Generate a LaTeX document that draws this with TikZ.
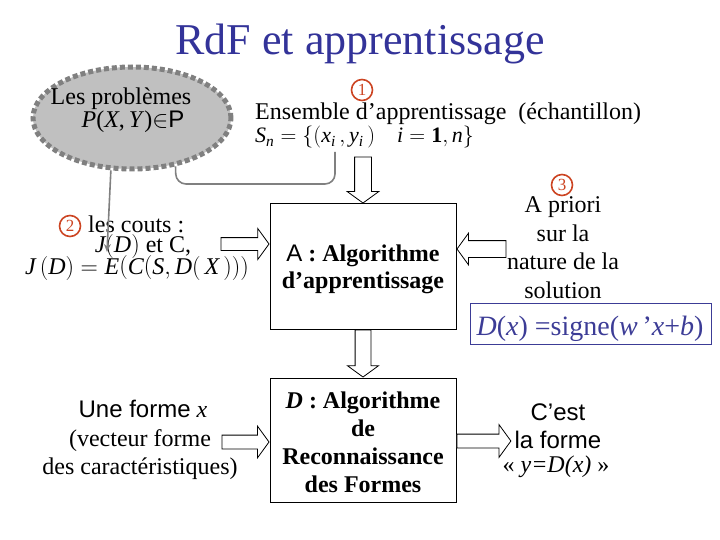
\RequirePackage{fix-cm}
\documentclass[tikz,border=0pt]{standalone}
\usepackage{fontspec}
\setmainfont{Liberation Serif}
\setsansfont{Liberation Sans}
\usetikzlibrary{shapes.geometric,shapes.arrows,arrows.meta}
\definecolor{titleblue}{RGB}{51,51,153}
\definecolor{circred}{RGB}{204,68,34}
\definecolor{boxblue}{RGB}{60,60,150}
\definecolor{probfill}{RGB}{192,192,192}
\definecolor{probedge}{RGB}{128,128,128}
\definecolor{conngray}{RGB}{128,128,128}
\begin{document}
\begin{tikzpicture}[x=1pt,y=-1pt,font=\fontsize{24}{28}\selectfont,
  txt/.style={anchor=base,inner sep=0pt},
  circnum/.style={circle,draw=circred,line width=1.6pt,text=circred,inner sep=0pt,minimum size=21pt,font=\fontsize{17}{17}\selectfont},
  algobox/.style={draw,line width=1pt,minimum width=186pt,inner sep=0pt},
  hollow/.style={single arrow,draw,line width=0.8pt,fill=white,inner xsep=0pt,single arrow tip angle=108},
  vhollow/.style={hollow,inner ysep=0pt,shape border rotate=270},
  conn/.style={draw=conngray,line width=1.6pt}]
\useasboundingbox (0,0) rectangle (720,540);

% title
\node[txt,text=titleblue,font=\fontsize{44}{50}\selectfont] (title) at (360,55) {RdF et apprentissage};

% problems ellipse
\node[ellipse,fill=probfill,draw=probedge,line width=5pt,dash pattern=on 5pt off 3pt,
      minimum width=198pt,minimum height=102pt] (prob) at (132,118) {};
\node[txt] (probt1) at (121,105) {Les problèmes};
\node[txt] (probt2) at (133,128) {\textit{P}(\textit{X},\,\textit{Y})$\in$\textsf{P}};

% training set
\node[circnum] (n1) at (362,90) {1};
\node[txt,anchor=base west] (ens) at (255,120) {Ensemble d’apprentissage\ \ (échantillon)};
\node[txt,anchor=base west,font=\fontsize{22}{26}\selectfont] (sn) at (255,143) {$\mathit{S}_{\mathit{n}} = \{(\mathit{x}_{\mathit{i}}\,,\mathit{y}_{\mathit{i}}\,)\enspace\enspace \mathit{i} = \mathbf{1}, \mathit{n}\}$};

% costs
\node[circnum] (n2) at (70,226) {2};
\node[txt,anchor=base west] (couts) at (88,233) {les couts :};
\node[txt] (jdc) at (143,252) {$\mathit{J}(\mathit{D})$ et C,};
\node[txt] (jde) at (137,274) {$\mathit{J}\,(\mathit{D}) = \mathit{E}\Bigl(\mathit{C}\bigl(\mathit{S}, \mathit{D}(\,\mathit{X}\,)\bigr)\Bigr)$};

% algorithm A
\node[algobox,minimum height=125pt] (A) at (363,266.5) {};
\node[txt] (At1) at (363,261) {\textsf{A}\textbf{ : Algorithme}};
\node[txt] (At2) at (363,288) {\textbf{d’apprentissage}};

% a priori
\node[circnum] (n3) at (562,185) {3};
\node[txt] (ap1) at (563,213) {A priori};
\node[txt] (ap2) at (563,241) {sur la};
\node[txt] (ap3) at (563,269) {nature de la};
\node[txt] (ap4) at (563,298) {solution};
\node[draw=boxblue,line width=0.8pt,minimum width=241pt,minimum height=41pt,inner sep=0pt] (sol) at (590.5,323.5) {};
\node[txt,text=boxblue,font=\fontsize{28}{32}\selectfont] (solt) at (590,335) {\textit{D}(\textit{x}) =signe(\textit{w}\,’\textit{x}+\textit{b})};

% algorithm D
\node[algobox,minimum height=124pt] (D) at (363,440) {};
\node[txt] (Dt1) at (363,408) {\textbf{\textit{D}} \textbf{: Algorithme}};
\node[txt] (Dt2) at (363,436) {\textbf{de}};
\node[txt] (Dt3) at (363,464) {\textbf{Reconnaissance}};
\node[txt] (Dt4) at (363,492) {\textbf{des Formes}};

% input form
\node[txt] (in1) at (143,417) {\textsf{Une forme} \textit{x}};
\node[txt] (in2) at (140,446) {(vecteur forme};
\node[txt] (in3) at (140,474) {des caractéristiques)};

% output
\node[txt] (out1) at (558,420) {\textsf{C’est}};
\node[txt] (out2) at (558,448) {\textsf{la forme}};
\node[txt] (out3) at (556,472) {« \textit{y=D(x)} »};

% hollow arrows
\node[vhollow,anchor=tip,minimum height=46pt,inner xsep=8pt,single arrow head extend=7.5pt] (a1) at (A.north) {};
\node[hollow,anchor=tip,minimum height=48pt,inner ysep=6pt,single arrow head extend=9pt] (a2) at ([yshift=22.5pt]A.west) {};
\node[hollow,anchor=tip,shape border rotate=180,minimum height=49pt,inner ysep=8pt,single arrow head extend=7.5pt] (a3) at ([yshift=17.5pt]A.east) {};
\node[vhollow,anchor=tip,minimum height=47pt,inner xsep=7.5pt,single arrow head extend=7.5pt] (a4) at (D.north) {};
\node[hollow,anchor=tip,minimum height=47pt,inner ysep=6.5pt,single arrow head extend=9pt] (a5) at ([yshift=-2pt]D.west) {};
\node[hollow,anchor=tail,minimum height=54pt,inner ysep=6.5pt,single arrow head extend=9.5pt] (a6) at ([yshift=-1pt]D.east) {};

% gray connectors
\coordinate (jtip) at (107,252);
\draw[conn,-{Stealth[length=8pt,width=7pt]}] (prob.248) -- (jtip);
\coordinate (snb) at (335,152);
\draw[conn,rounded corners=10pt] (prob.312) -- (176,184) -- (335,184) -- (snb);
\end{tikzpicture}
\end{document}
